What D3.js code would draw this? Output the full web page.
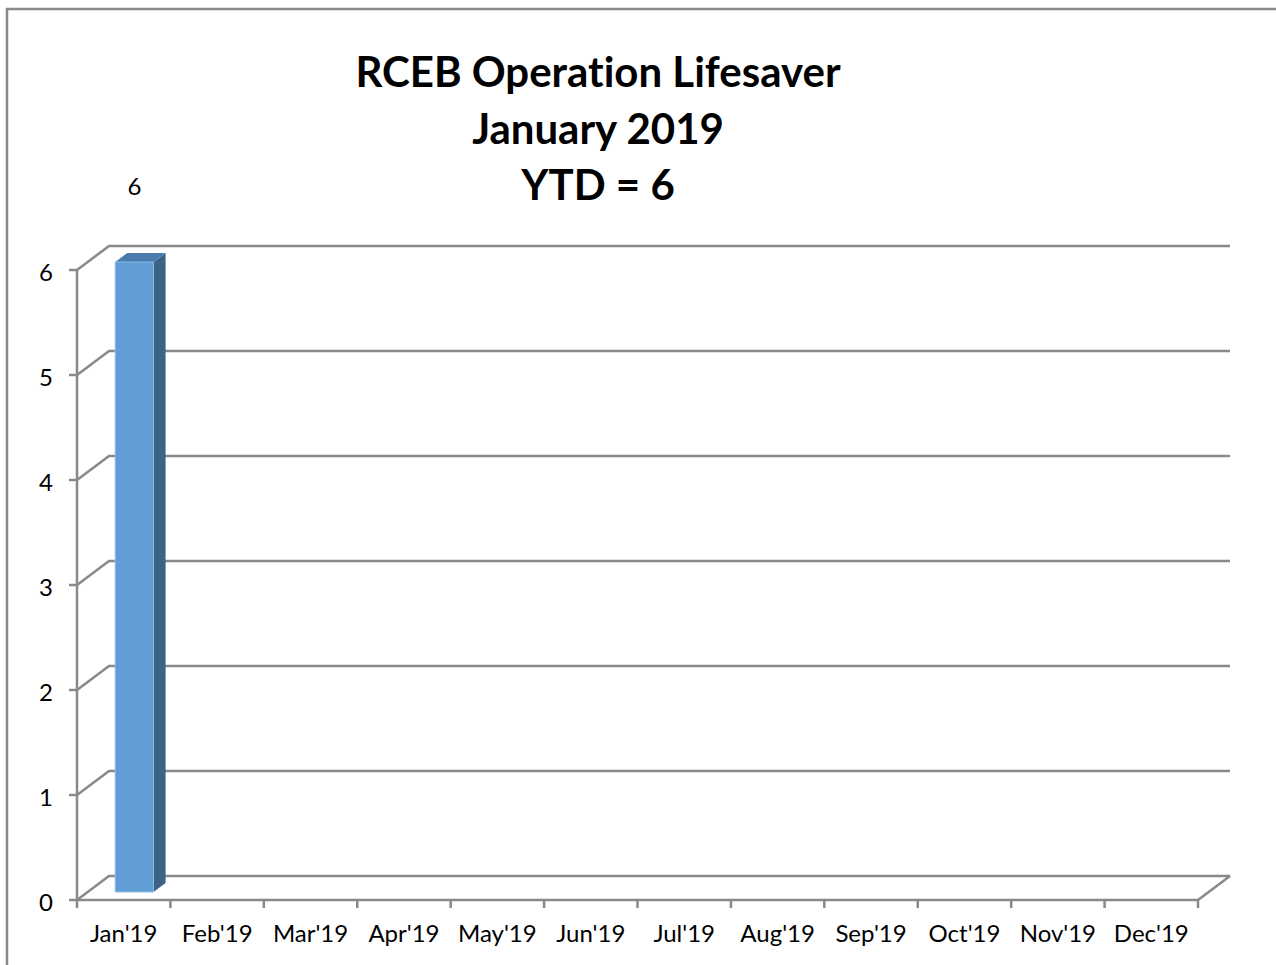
<!DOCTYPE html>
<html>
<head>
<meta charset="utf-8">
<script src="https://cdn.jsdelivr.net/npm/d3@7"></script>
<style>
  body { margin: 0; background: #fff; }
  text { font-variant-ligatures: none; font-feature-settings: "liga" 0; }
  .tickLabel { font-family: Lato, sans-serif; font-size: 24px; fill: #000; }
  .titleText { font-family: Lato, sans-serif; font-size: 42px; font-weight: bold; fill: #000; }
</style>
</head>
<body>
<svg id="chart" width="1276" height="965"></svg>
<script>
// chart data
var months = ["Jan'19", "Feb'19", "Mar'19", "Apr'19", "May'19", "Jun'19",
              "Jul'19", "Aug'19", "Sep'19", "Oct'19", "Nov'19", "Dec'19"];
var counts = [6, null, null, null, null, null, null, null, null, null, null, null];
var yTicks = [0, 1, 2, 3, 4, 5, 6];
var titleLines = ['RCEB Operation Lifesaver', 'January 2019', 'YTD = 6'];

var svg = d3.select('#chart');
var gridColor = '#898989';

// front plane of the 3d box, back plane is shifted by depth
var depth = {dx: 32, dy: -24};
var x = d3.scaleBand().domain(months).range([77, 1198]);
var y = d3.scaleLinear().domain([0, 6]).range([900, 270]);
var xL = x.range()[0], xR = x.range()[1];

// outer chart border (right and bottom fall outside the picture)
svg.append('rect')
	.attr('x', 7)
	.attr('y', 9)
	.attr('width', 1300)
	.attr('height', 1000)
	.attr('fill', 'none')
	.attr('stroke', gridColor)
	.attr('stroke-width', 2.5);

// back wall gridlines + left wall diagonals
var grid = svg.append('g').attr('id', 'grid')
	.attr('stroke', gridColor)
	.attr('stroke-width', 2.5)
	.attr('fill', 'none');
grid.selectAll('path.wall')
	.data(yTicks)
	.enter()
	.append('path')
	.attr('class', 'wall')
	.attr('d', function(d) {
		return 'M' + xL + ',' + y(d) +
			'L' + (xL + depth.dx) + ',' + (y(d) + depth.dy) +
			'H' + (xR + depth.dx);
	});
// floor front edge and right diagonal
grid.append('path')
	.attr('d', 'M' + xL + ',' + y(0) + 'H' + xR +
		'L' + (xR + depth.dx) + ',' + (y(0) + depth.dy));
// vertical axis line
grid.append('path')
	.attr('d', 'M' + xL + ',' + y(6) + 'V' + y(0));
// y ticks
grid.selectAll('path.ytick')
	.data(yTicks)
	.enter()
	.append('path')
	.attr('class', 'ytick')
	.attr('d', function(d) { return 'M' + (xL - 8) + ',' + y(d) + 'H' + xL; });
// x ticks
var xTickPos = months.map(function(m) { return x(m); }).concat([xR]);
grid.selectAll('path.xtick')
	.data(xTickPos)
	.enter()
	.append('path')
	.attr('class', 'xtick')
	.attr('d', function(d) { return 'M' + d + ',' + y(0) + 'V' + (y(0) + 8); });

// 3d bars
var barW = x.bandwidth() * 0.41;
var f0 = 1 / 3, f1 = 0.71; // bar sits between these depth fractions
var barData = months.map(function(m, i) { return {month: m, value: counts[i]}; })
	.filter(function(d) { return d.value != null; });

var bars = svg.append('g').attr('id', 'bars')
	.selectAll('g')
	.data(barData)
	.enter()
	.append('g');

function pt(px, py, f) {
	return (px + depth.dx * f) + ',' + (py + depth.dy * f);
}
bars.append('path') // side
	.attr('fill', '#3D6287')
	.attr('d', function(d) {
		var xr = x(d.month) + (x.bandwidth() + barW) / 2;
		return 'M' + pt(xr, y(0), f0) + 'L' + pt(xr, y(d.value), f0) +
			'L' + pt(xr, y(d.value), f1) + 'L' + pt(xr, y(0), f1) + 'Z';
	});
bars.append('path') // top
	.attr('fill', '#4B7BAC')
	.attr('d', function(d) {
		var xl = x(d.month) + (x.bandwidth() - barW) / 2;
		return 'M' + pt(xl, y(d.value), f0) + 'L' + pt(xl + barW, y(d.value), f0) +
			'L' + pt(xl + barW, y(d.value), f1) + 'L' + pt(xl, y(d.value), f1) + 'Z';
	});
bars.append('path') // front
	.attr('fill', '#5F9DD4')
	.attr('stroke', '#8DBBE3')
	.attr('stroke-width', 1)
	.attr('d', function(d) {
		var xl = x(d.month) + (x.bandwidth() - barW) / 2;
		return 'M' + pt(xl, y(0), f0) + 'L' + pt(xl, y(d.value), f0) +
			'L' + pt(xl + barW, y(d.value), f0) + 'L' + pt(xl + barW, y(0), f0) + 'Z';
	});
// data label (Excel put it up above the plot)
bars.append('text')
	.attr('class', 'tickLabel')
	.attr('text-anchor', 'middle')
	.attr('x', function(d) { return x(d.month) + x.bandwidth() / 2 + depth.dx * f0; })
	.attr('y', function(d) { return y(d.value) - 75; })
	.text(function(d) { return d.value; });

// y axis labels
svg.append('g').attr('id', 'yLabels')
	.selectAll('text')
	.data(yTicks)
	.enter()
	.append('text')
	.attr('class', 'tickLabel')
	.attr('text-anchor', 'end')
	.attr('dominant-baseline', 'central')
	.attr('x', 53)
	.attr('y', function(d) { return y(d) + 1; })
	.text(function(d) { return d; });

// x axis labels
svg.append('g').attr('id', 'xLabels')
	.selectAll('text')
	.data(months)
	.enter()
	.append('text')
	.attr('class', 'tickLabel')
	.attr('text-anchor', 'middle')
	.attr('x', function(d) { return x(d) + x.bandwidth() / 2; })
	.attr('y', 942)
	.text(function(d) { return d; });

// title
svg.append('g').attr('id', 'theTitle')
	.selectAll('text')
	.data(titleLines)
	.enter()
	.append('text')
	.attr('class', 'titleText')
	.attr('text-anchor', 'middle')
	.attr('x', 598)
	.attr('y', function(d, i) { return 87 + i * 56.5; })
	.text(function(d) { return d; });
</script>
</body>
</html>
